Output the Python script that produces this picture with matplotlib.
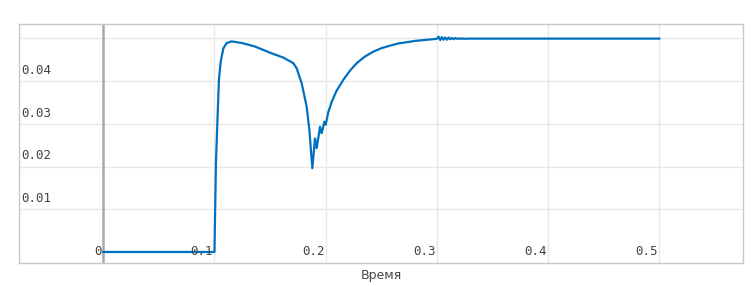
import numpy as np
import matplotlib.pyplot as plt

# Data
t = [0.0, 0.1, 0.1013, 0.1029, 0.104, 0.1056, 0.108, 0.111, 0.1155,
     0.125, 0.1364, 0.1514, 0.162, 0.1709, 0.1739, 0.1784, 0.1829, 0.1853,
     0.188, 0.1904, 0.1919, 0.1949, 0.1964, 0.1988, 0.2, 0.2024, 0.2055,
     0.2095, 0.2158, 0.222, 0.2279, 0.235, 0.2428, 0.25, 0.2578, 0.265,
     0.2728, 0.28, 0.2878, 0.2998,
     0.3015, 0.303, 0.3045, 0.306, 0.3075, 0.309, 0.3105, 0.312, 0.3135,
     0.315, 0.3165, 0.318, 0.3195, 0.321, 0.3225, 0.324, 0.327, 0.333, 0.5]
y = [0.0, 0.0, 0.0208, 0.0325, 0.0403, 0.0446, 0.0477, 0.0489, 0.0493,
     0.0489, 0.0481, 0.0465, 0.0455, 0.0442, 0.043, 0.0395, 0.034, 0.0286,
     0.0196, 0.0266, 0.0243, 0.0293, 0.0278, 0.0305, 0.0298, 0.0328, 0.0352,
     0.0376, 0.0403, 0.0425, 0.0442, 0.0457, 0.0469, 0.0477, 0.0483, 0.0488,
     0.0491, 0.0494, 0.0496, 0.0499,
     0.0504, 0.0496, 0.0503, 0.0497, 0.0502, 0.0497, 0.0502, 0.0498, 0.0501,
     0.0498, 0.0501, 0.0499, 0.05, 0.0499, 0.05, 0.0499, 0.04995, 0.04995, 0.04995]

x_ticks = [0, 0.1, 0.2, 0.3, 0.4, 0.5]
x_labels = ['0', '0.1', '0.2', '0.3', '0.4', '0.5']
y_ticks = [0.01, 0.02, 0.03, 0.04, 0.05]
y_labels = ['0.01', '0.02', '0.03', '0.04', '']

fig = plt.figure(figsize=(7.53, 2.87), dpi=100)
ax = fig.add_axes([19.3 / 753, (287 - 263) / 287, (743.3 - 19.3) / 753, (263 - 24.3) / 287])

ax.plot(t, y, color='#0070c0', lw=1.6, zorder=3, solid_joinstyle='round')

ax.set_xlim(-0.0755, 0.5755)
ax.set_ylim(-0.00258, 0.0533)
ax.set_xticks(x_ticks)
ax.set_yticks(y_ticks)
ax.tick_params(length=0, labelbottom=False, labelleft=False)
ax.grid(True, color='#e8e8e8', lw=1)
ax.axvline(0, color='#aaaaaa', lw=1.8, zorder=2)

for s in ax.spines.values():
    s.set_color('#c8c8c8')
    s.set_linewidth(1)

mono = dict(family='DejaVu Sans Mono', fontsize=9, color='#444444')
for xt, lab in zip(x_ticks, x_labels):
    ax.annotate(lab, (xt, 0), xytext=(-1, 0), textcoords='offset points',
                ha='right', va='center', **mono)
for yt, lab in zip(y_ticks, y_labels):
    ax.annotate(lab, (0, yt), xycoords=('axes fraction', 'data'), xytext=(1.5, 3),
                textcoords='offset points', ha='left', va='bottom', **mono)

ax.set_xlabel('Время', fontsize=9, color='#444444', labelpad=4)

fig.savefig('out.png', dpi=100)
